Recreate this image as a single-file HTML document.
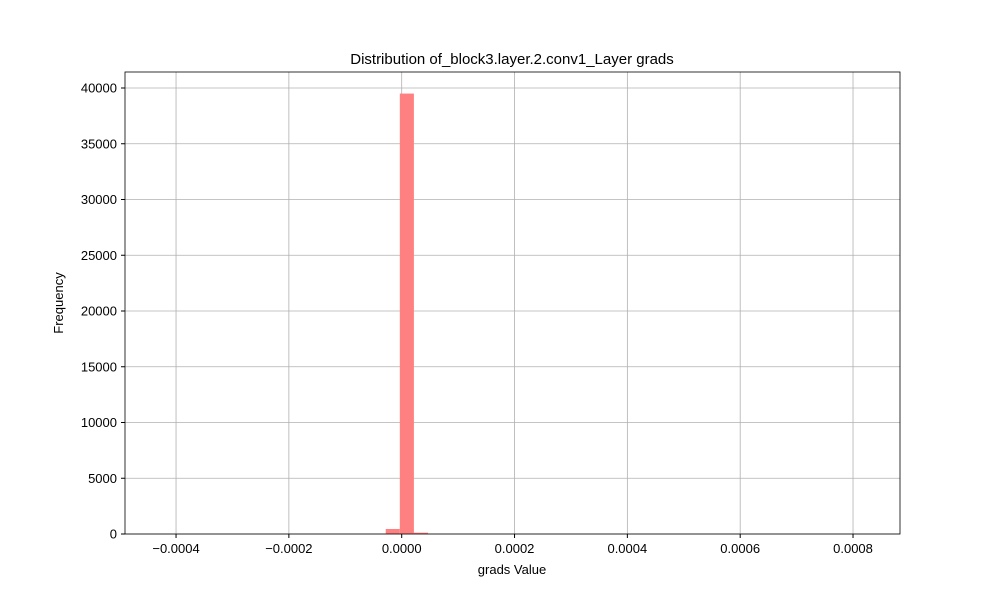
<!DOCTYPE html>
<html><head><meta charset="utf-8"><style>
body{margin:0;background:#fff;}
svg text{font-family:"Liberation Sans","DejaVu Sans",sans-serif;fill:#000;}
</style></head><body>
<svg id="chart" width="1000" height="600">
<text x="512" y="64" font-size="15" text-anchor="middle">Distribution of_block3.layer.2.conv1_Layer grads</text>
<g id="grid"></g>
<g id="bars"></g>
<rect x="125" y="72" width="775" height="462" fill="none" stroke="#000" stroke-width="0.8"/>
<g id="ticks"></g>
<text x="512" y="574" font-size="13" text-anchor="middle">grads Value</text>
<text x="63" y="303" font-size="13" text-anchor="middle" transform="rotate(-90 63 303)">Frequency</text>
</svg>
<script>
const xTicks=[-0.0004,-0.0002,0,0.0002,0.0004,0.0006,0.0008];
const xTickLabels=["\u22120.0004","\u22120.0002","0.0000","0.0002","0.0004","0.0006","0.0008"];
const yTicks=[0,5000,10000,15000,20000,25000,30000,35000,40000];
const binMin=-0.000428;
const binWidth=0.00002498;
const counts=[1,0,0,0,0,0,0,0,0,0,0,0,0,0,0,2,450,39500,120,3,1,0,0,0,0,0,0,0,0,0,0,0,0,0,0,0,0,0,0,0,0,0,0,0,0,0,0,0,0,1];
const X=v=>401.7+v*564150;
const Y=v=>534-v*(446/40000);
const ns="http://www.w3.org/2000/svg";
function mk(t,a){const e=document.createElementNS(ns,t);for(const k in a)e.setAttribute(k,a[k]);return e;}
const grid=document.getElementById('grid'),bars=document.getElementById('bars'),ticks=document.getElementById('ticks');
xTicks.forEach((v,i)=>{
 const l=mk('line',{x1:X(v),x2:X(v),y1:72,y2:534,stroke:'#b0b0b0','stroke-width':0.8});
 
 
 grid.appendChild(l);
 const t=mk('line',{x1:X(v),x2:X(v),y1:534,y2:538,stroke:'#000'});
 
 
 ticks.appendChild(t);
 const tx=mk('text',{x:X(v),y:553,'font-size':13,'text-anchor':'middle'});
 tx.textContent=xTickLabels[i];
 
 
 ticks.appendChild(tx);
});
yTicks.forEach(v=>{
 const l=mk('line',{x1:125,x2:900,y1:Y(v),y2:Y(v),stroke:'#b0b0b0','stroke-width':0.8});
 
 
 grid.appendChild(l);
 const t=mk('line',{x1:121,x2:125,y1:Y(v),y2:Y(v),stroke:'#000'});
 
 
 ticks.appendChild(t);
 const tx=mk('text',{x:117,y:Y(v)+4.5,'font-size':13,'text-anchor':'end'});
 tx.textContent=String(v);
 
 
 ticks.appendChild(tx);
});
counts.forEach((c,i)=>{
 const x0=X(binMin+i*binWidth),x1=X(binMin+(i+1)*binWidth);
 const r=mk('rect',{x:x0,y:Y(c),width:x1-x0,height:534-Y(c),fill:'#ff8080'});
 
 
 bars.appendChild(r);
});
</script>
</body></html>
